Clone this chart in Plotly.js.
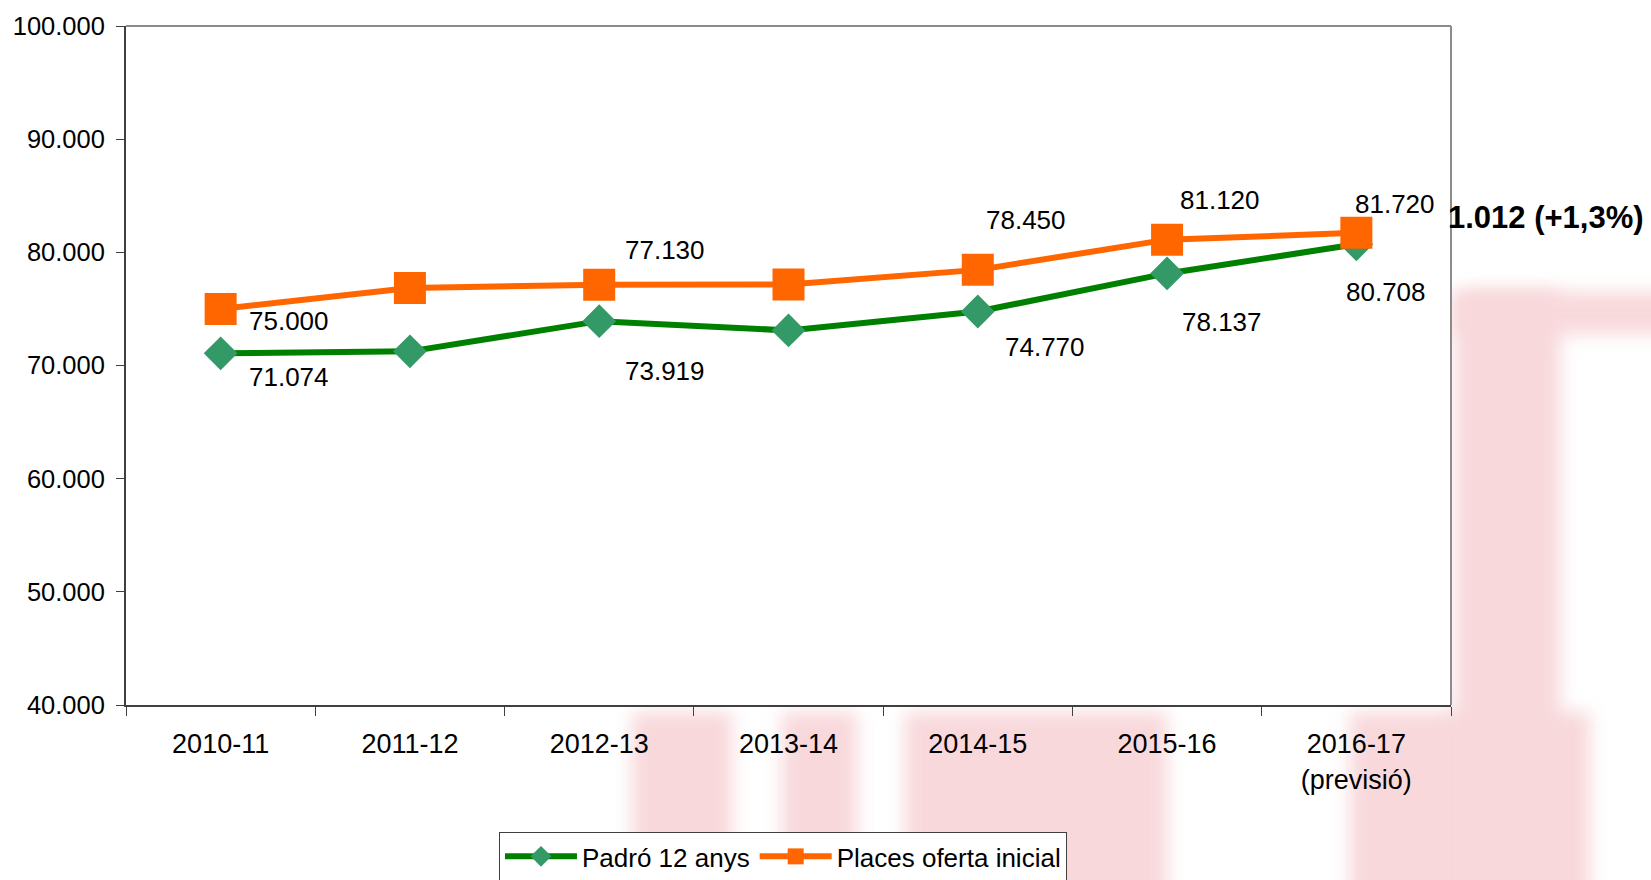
<!DOCTYPE html>
<html>
<head>
<meta charset="utf-8">
<script src="https://cdn.plot.ly/plotly-3.0.1.min.js"></script>
<style>
  html, body { margin: 0; padding: 0; background: #ffffff; overflow: hidden; }
  #wrap { position: relative; width: 1651px; height: 880px; overflow: hidden; }
  #bg { position: absolute; left: 0; top: 0; width: 1651px; height: 880px; }
  #bg div { position: absolute; background: #F8D8DB; filter: blur(9px); }
  #chart { position: absolute; left: 0; top: 0; width: 1651px; height: 880px; }
</style>
</head>
<body>
<div id="wrap">
  <div id="bg">
    <div style="left:632px; top:712px; width:100px; height:200px;"></div>
    <div style="left:782px; top:712px; width:75px; height:200px;"></div>
    <div style="left:905px; top:712px; width:262px; height:200px;"></div>
    <div style="left:1350px; top:712px; width:240px; height:200px;"></div>
    <div style="left:1455px; top:292px; width:105px; height:620px;"></div>
    <div style="left:1455px; top:292px; width:220px; height:42px;"></div>
  </div>
  <div id="chart"></div>
</div>
<script>
// ---- data ----
var categories = ["2010-11", "2011-12", "2012-13", "2013-14", "2014-15", "2015-16", "2016-17<br>(previsió)"];
var padro = [71074, 71250, 73919, 73100, 74770, 78137, 80708];
var places = [75000, 76850, 77130, 77150, 78450, 81120, 81720];
var seriesNames = ["Padró 12 anys", "Places oferta inicial"];
// which points carry a value label
var padroLabelled = [true, false, true, false, true, true, true];
var placesLabelled = [true, false, true, false, true, true, true];

// ---- styling / label offsets (pixels) ----
var padroShift = [[68, -24], null, [66, -50], null, [67, -35], [55, -49], [30, -48]];
var placesShift = [[68, -12], null, [66, 35], null, [48, 50], [53, 40], [39, 29]];

var FONT = "Liberation Sans, Arial, Helvetica, sans-serif";

function fmt(v) {
  return String(v).replace(/\B(?=(\d{3})+(?!\d))/g, ".");
}

var traces = [
  {
    x: categories, y: padro, name: seriesNames[0], type: "scatter", mode: "lines+markers",
    line: { color: "#008000", width: 6 },
    marker: { symbol: "diamond", size: 26, color: "#339966", line: { width: 0 } },
    cliponaxis: false
  },
  {
    x: categories, y: places, name: seriesNames[1], type: "scatter", mode: "lines+markers",
    line: { color: "#FF6600", width: 6 },
    marker: { symbol: "square", size: 32, color: "#FF6600", line: { width: 0 } },
    cliponaxis: false
  }
];

var annotations = [];
padro.forEach(function (v, i) {
  if (!padroLabelled[i]) return;
  annotations.push({ x: i, y: v, xref: "x", yref: "y", text: fmt(v), showarrow: false,
    xshift: padroShift[i][0], yshift: padroShift[i][1], font: { family: FONT, size: 26, color: "#000" } });
});
places.forEach(function (v, i) {
  if (!placesLabelled[i]) return;
  annotations.push({ x: i, y: v, xref: "x", yref: "y", text: fmt(v), showarrow: false,
    xshift: placesShift[i][0], yshift: placesShift[i][1], font: { family: FONT, size: 26, color: "#000" } });
});
// difference annotation computed from last values
var last = categories.length - 1;
var diff = places[last] - padro[last];
var pct = (diff / padro[last] * 100).toFixed(1).replace(".", ",");
annotations.push({
  x: 1.0715, y: 0.7187, xref: "paper", yref: "paper", xanchor: "center", yanchor: "middle",
  text: "<b>" + fmt(diff) + " (+" + pct + "%)</b>", showarrow: false,
  font: { family: FONT, size: 31, color: "#000" }
});

var shapes = [
  // plot border top & right (gray)
  { type: "line", xref: "paper", yref: "paper", x0: 0, x1: 1, y0: 1, y1: 1, line: { color: "#8c8c8c", width: 2 } },
  { type: "line", xref: "paper", yref: "paper", x0: 1, x1: 1, y0: 0, y1: 1, line: { color: "#8c8c8c", width: 2 } }
];

var LEG_W = 72;
var layout = {
  width: 1651, height: 880,
  margin: { l: 126, r: 200, t: 26, b: 175, pad: 0, autoexpand: false },
  paper_bgcolor: "rgba(0,0,0,0)", plot_bgcolor: "#ffffff",
  separators: ",.",
  font: { family: FONT, size: 25, color: "#000" },
  showlegend: true,
  legend: {
    orientation: "h", x: 0.2815, xanchor: "left", y: -0.187, yanchor: "top",
    bordercolor: "#404040", borderwidth: 1, bgcolor: "#ffffff",
    font: { family: FONT, size: 26, color: "#000" }, itemwidth: LEG_W, tracegroupgap: 0
  },
  xaxis: {
    type: "category", range: [-0.5, 6.5], fixedrange: true,
    showline: true, linecolor: "#404040", linewidth: 2,
    ticks: "outside", tickson: "boundaries", ticklen: 9, tickcolor: "#404040", tickwidth: 1,
    showgrid: false, zeroline: false, ticklabelstandoff: 14,
    tickfont: { family: FONT, size: 27, color: "#000" }
  },
  yaxis: {
    range: [40000, 100000], dtick: 10000, tick0: 40000, tickformat: ",d", fixedrange: true,
    showline: true, linecolor: "#404040", linewidth: 2,
    ticks: "outside", ticklen: 8, tickcolor: "#404040", tickwidth: 1,
    showgrid: false, zeroline: false, ticklabelstandoff: 6,
    tickfont: { family: FONT, size: 25.5, color: "#000" }
  },
  annotations: annotations,
  shapes: shapes
};

Plotly.newPlot("chart", traces, layout, { displayModeBar: false, staticPlot: true }).then(function (gd) {
  // lengthen legend line samples to match the original's longer keys
  gd.querySelectorAll(".legend .legendlines path").forEach(function (p) {
    p.setAttribute("d", "M5,0h" + LEG_W);
  });
  gd.querySelectorAll(".legend .legendpoints path").forEach(function (p) {
    p.setAttribute("transform", "translate(" + (5 + LEG_W / 2) + ",0)");
  });
});
</script>
</body>
</html>
